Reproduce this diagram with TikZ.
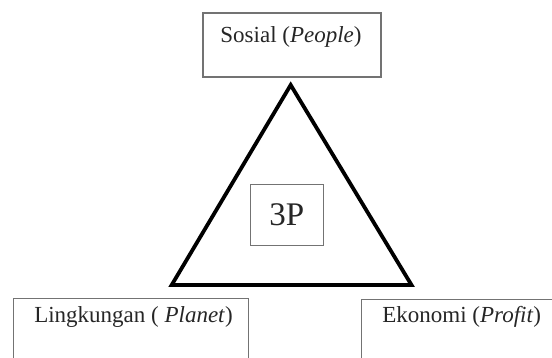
\documentclass[tikz,border=0pt]{standalone}
\usepackage{fontspec}
\setmainfont{Liberation Serif}
\begin{document}
\begin{tikzpicture}[x=1pt,y=1pt,
  box/.style={draw=black!55, line width=1.4pt, inner sep=0pt},
  lbl/.style={font=\fontsize{23}{26}\selectfont, text=black!85, inner sep=0pt},
  tri/.style={draw=black, line width=3.8pt, line join=miter}]
\useasboundingbox (0,0) rectangle (552,358);
\clip (0,0) rectangle (552,358);
% top box
\node[box, minimum width=178pt, minimum height=64pt] (sosialbox) at (292,313) {};
\node[lbl, anchor=base] (sosial) at (291,315) {Sosial (\textit{People})};
% triangle
\coordinate (apex) at (290.7,273);
\coordinate (bl) at (171.7,73);
\coordinate (br) at (411.5,73);
\draw[tri] (apex) -- (bl) -- (br) -- cycle;
% center box
\node[box, minimum width=73pt, minimum height=61pt] (pbox) at (286.7,143) {};
\node[lbl, font=\fontsize{33}{36}\selectfont, anchor=base] (threep) at (286.7,132) {3P};
% bottom boxes
\node[box, anchor=north west, minimum width=235pt, minimum height=80pt] (lingbox) at (13,60) {};
\node[lbl, anchor=base] (ling) at (133.5,35) {Lingkungan ( \textit{Planet})};
\node[box, anchor=north west, minimum width=220pt, minimum height=80pt] (ekobox) at (361,59) {};
\node[lbl, anchor=base] (eko) at (461.7,35) {Ekonomi (\textit{Profit})};
\end{tikzpicture}
\end{document}
